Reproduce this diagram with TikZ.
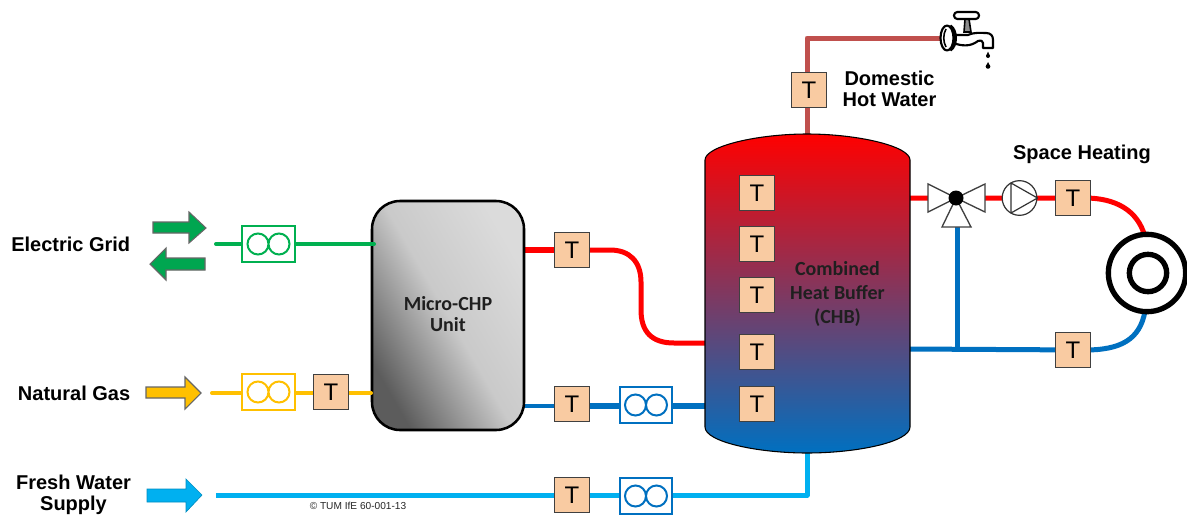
\documentclass[tikz,border=0pt]{standalone}
\usepackage{fontspec}
\setmainfont{Liberation Sans}
\newfontfamily\calfont{Carlito}
\usetikzlibrary{calc}
\definecolor{tfill}{HTML}{F9CBA2}
\definecolor{pgreen}{HTML}{00B050}
\definecolor{agreen}{HTML}{00A650}
\definecolor{pyellow}{HTML}{FFC000}
\definecolor{pblue}{HTML}{0070C0}
\definecolor{plight}{HTML}{00B0F0}
\definecolor{pred}{HTML}{FF0000}
\definecolor{pdhw}{HTML}{C0504D}
\tikzset{
 x=0.75pt,y=-0.75pt,
 tbox/.style={draw=black!75,line width=1pt,fill=tfill,minimum width=26pt,minimum height=26pt,inner sep=0pt,font=\fontsize{18}{18}\selectfont,text=black},
 meterbox/.style={draw=#1,fill=white,line width=1.5pt,minimum width=39.5pt,minimum height=27pt,inner sep=0pt},
 pipe/.style={line width=#1*0.75pt,line join=round},
 lab/.style={font=\bfseries\fontsize{15}{15.7}\selectfont,align=center,text=black,inner sep=0pt},
 inlab/.style={font=\calfont\bfseries\fontsize{15}{#1}\selectfont,align=center,text=black!88,inner sep=0pt},
 bigarrow/.style={draw=black!60,line width=0.8pt,fill=#1,line join=miter},
 fau/.style={draw=black,line width=1.6pt,fill=white,line join=round},
}
\newcommand{\meter}[3]{% name, pos, colour
 \node[meterbox=#3] (#1) at (#2) {};
 \draw[#3,line width=1.5pt] ($(#1)+(-10.5,0)$) circle[radius=10.5] ($(#1)+(10.5,0)$) circle[radius=10.5];
}
\begin{document}
\begin{tikzpicture}
\useasboundingbox (0,0) rectangle (1187,514);
% free ends and bends
\coordinate (ge) at (216,244);
\coordinate (ye) at (212,393);
\coordinate (we) at (216,495);
\coordinate (wc) at (807,495);
\coordinate (wt) at (807,452);
\coordinate (dt) at (807,135);
\coordinate (dc) at (807,38);
\coordinate (fa) at (942,38);
% pipes below
\draw[pipe=5,plight] (we) -- (wc) -- (wt);
\draw[pipe=5,pdhw] (dt) -- (dc) -- (fa);
\draw[pipe=6,pred] (524,250) -- (572,250);
\draw[pipe=5,pred] (572,250) -- (610,250) .. controls (630,250) and (641,262) .. (641,282) -- (641,310) .. controls (641,332) and (652,343) .. (674,343) -- (706,343);
\draw[pipe=4,pblue] (524,406) -- (590,406);
\draw[pipe=5.5,pblue] (590,406) -- (706,406);
\draw[pipe=5,pred] (909,198) -- (930,198) (983,198) -- (1056,198) -- (1085,198) .. controls (1115,198) and (1138,210) .. (1145,237);
\draw[pipe=5,pblue] (909,349) -- (1085,350) .. controls (1120,350) and (1140,340) .. (1145,311);
\draw[pipe=5,pblue] (957,227) -- (957,349);
% micro-CHP
\draw[line width=1.9pt,black,rounded corners=21pt,shading=axis,top color=black!14,bottom color=black!64,middle color=black!21,shading angle=-60] (372,201) rectangle (524,430);
\node[inlab=15.8] (chplab) at (448,314.5) {Micro-CHP\\Unit};
\draw[pipe=4,pgreen,line cap=round] (ge) -- (374,244);
\draw[pipe=4,pyellow,line cap=round] (ye) -- (371,393);
% tank
\path[draw=black,line width=0.8pt,top color=pred,bottom color=pblue,middle color=pred!50!pblue,shading=axis]
 (705,160) .. controls (705,146) and (758,134) .. (807,134) .. controls (857,134) and (910,146) .. (910,160)
 -- (910,427) .. controls (910,442) and (857,453) .. (807,453) .. controls (758,453) and (705,442) .. (705,427) -- cycle;
\node[inlab=18] (tanklab) at (837.5,294) {Combined\\Heat Buffer\\(CHB)};
% T boxes
\foreach \n/\p in {t1/{809,90},t2/{757,193},t3/{757,244},t4/{757,295},t5/{757,352},t6/{757,404},t7/{572,250},t8/{572,404},t9/{331,392},t10/{572,495},t11/{1073,198},t12/{1073,350}}
 \node[tbox] (\n) at (\p) {T};
% meters
\meter{m1}{268.5,244}{pgreen}
\meter{m2}{268.5,392}{pyellow}
\meter{m3}{646,405}{pblue}
\meter{m4}{646,496}{pblue}
% valve
\coordinate (vc) at (956,198);
\draw[black!75,fill=white,line width=1pt,line join=miter] (vc) -- (928,184) -- (928,212) -- cycle;
\draw[black!75,fill=white,line width=1pt,line join=miter] (vc) -- (985,184) -- (985,212) -- cycle;
\draw[black!75,fill=white,line width=1pt,line join=miter] (vc) -- (942,227) -- (971,227) -- cycle;
\fill[black] (vc) circle[radius=7.5];
% pump
\node[circle,draw=black!80,fill=white,line width=0.9pt,minimum size=26pt,inner sep=0pt] (pump) at (1019.5,198) {};
\draw[black!80,line width=0.9pt,line join=round] (1011,183) -- (pump.east) -- (1011,213) -- cycle;
% radiator
\node[circle,draw=black,fill=white,line width=4pt,minimum size=58pt,inner sep=0pt] (rad) at (1147,273) {};
\node[circle,draw=black,fill=white,line width=4pt,minimum size=28pt,inner sep=0pt] (radin) at (1148,273) {};
% block arrows
\draw[bigarrow=agreen] (153,222) -- (189,222) -- (189,212) -- (206,228) -- (189,243) -- (189,233) -- (153,233) -- cycle;
\draw[bigarrow=agreen] (205,258) -- (166,258) -- (166,248) -- (150,264) -- (166,280) -- (166,270) -- (205,270) -- cycle;
\draw[bigarrow=pyellow] (146,387) -- (185,387) -- (185,377) -- (201,393) -- (185,409) -- (185,398) -- (146,398) -- cycle;
\draw[draw=plight!80!black,line width=0.5pt,fill=plight] (147,489) -- (186,489) -- (186,479) -- (202,495) -- (186,512) -- (186,502) -- (147,502) -- cycle;
% faucet
\draw[fau] (953,35) -- (968,35) .. controls (975,32) and (980,33) .. (986,33) .. controls (991,33) and (993,36) .. (993,40) -- (993,48) -- (983,48) -- (983,43) .. controls (983,41) and (981,40) .. (978,41) .. controls (970,47) and (962,46) .. (953,43) -- cycle;
\draw[fill=black!45,draw=black,line width=1.2pt] (964,32) -- (965,19) -- (969,19) -- (971,32) -- cycle;
\draw[fau,rounded corners=2.5pt] (954,12) rectangle (979,19);
\draw[fau] (947,38) ellipse[x radius=6.5,y radius=12.5];
\draw[black,line width=2.6pt] (950,26) .. controls (957,30) and (957,46) .. (950,50);
\draw[black,line width=1.2pt] (946,29) .. controls (943,34) and (943,42) .. (946,47);
\fill[black] (988,51.5) -- (986.2,56) -- (989.8,56) -- cycle;
\fill[black] (988,56) circle[radius=2];
\fill[black] (988,62) -- (985.8,66.5) -- (990.2,66.5) -- cycle;
\fill[black] (988,66.5) circle[radius=2.3];
% labels
\node[lab,anchor=east] (l1) at (130.5,244) {Electric Grid};
\node[lab,anchor=east] (l2) at (130.5,393) {Natural Gas};
\node[lab] (l3) at (73.5,495) {Fresh Water\\Supply};
\node[lab] (l4) at (889.5,88.5) {Domestic\\Hot Water};
\node[lab] (l5) at (1082,154) {Space Heating};
\node[inner sep=0pt,font=\fontsize{7.6}{8}\selectfont,text=black!85] (l6) at (358,506) {© TUM IfE 60-001-13};
\end{tikzpicture}
\end{document}
